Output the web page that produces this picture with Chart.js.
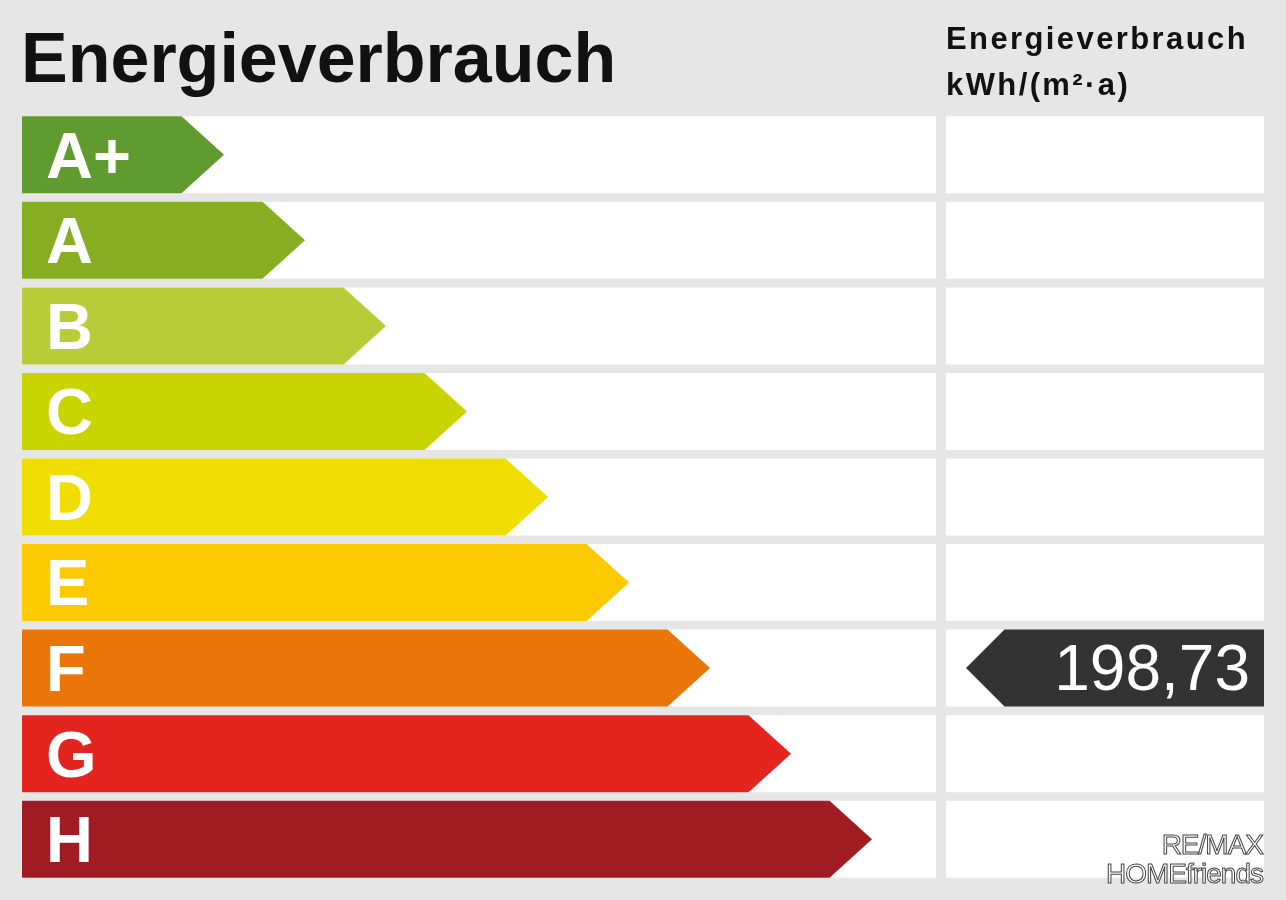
<!DOCTYPE html>
<html><head><meta charset="utf-8">
<script src="https://cdn.jsdelivr.net/npm/chart.js@4"></script>
<style>
body{margin:0;background:#e6e6e6;width:1286px;height:900px;overflow:hidden;font-family:"Liberation Sans",Arial,sans-serif}
#wrap{position:relative;width:1286px;height:900px}
.t{position:absolute;font-weight:bold;color:#111;white-space:nowrap}
</style></head><body>
<div id="wrap">
<canvas id="c" width="1286" height="900"></canvas>
<div class="t" style="left:21px;top:18px;font-size:70px">Energieverbrauch</div>
<div class="t" style="left:946px;top:16px;font-size:31px;line-height:46px;letter-spacing:2.4px">Energieverbrauch<br>kWh/(m²·a)</div>
<div style="position:absolute;right:23px;top:830px;font-size:28px;line-height:29px;text-align:right;color:#fff;-webkit-text-stroke:1px #444;letter-spacing:-1px">RE/MAX<br>HOMEfriends</div>
</div>
<script>
const categories=["A+","A","B","C","D","E","F","G","H"];
const arrowEnds=[202,283,364,445,526,607,688,769,850];
const colors=["#5f9b2f","#87ae22","#b6cd38","#cad400","#f0de00","#fdc900","#ea760a","#e3241f","#a11b22"];
const leftPanel=[0,914];
const rightPanel=[924,1242];
const valueLabel="198,73";
const valueCategory="F";
const valueStart=944;

const arrowPlugin={id:"arrows",afterDatasetsDraw(chart){
  const ctx=chart.ctx, meta=chart.getDatasetMeta(2), xs=chart.scales.x;
  meta.data.forEach((el,i)=>{
    const h=el.height, y=el.y, x0=xs.getPixelForValue(0), x1=el.x, d=h/2+4;
    ctx.fillStyle=colors[i];
    ctx.beginPath();ctx.moveTo(x0,y-h/2);ctx.lineTo(x1-d,y-h/2);ctx.lineTo(x1,y);ctx.lineTo(x1-d,y+h/2);ctx.lineTo(x0,y+h/2);ctx.closePath();ctx.fill();
    ctx.fillStyle="#fff";ctx.font="bold 65px 'Liberation Sans',Arial";ctx.textBaseline="middle";ctx.textAlign="left";
    ctx.fillText(categories[i],x0+24,y+5);
  });
  const vm=chart.getDatasetMeta(3);
  const idx=categories.indexOf(valueCategory), el=vm.data[idx];
  const h=el.height, y=el.y, xl=el.base, xr=el.x, d=h/2;
  ctx.fillStyle="#333333";
  ctx.beginPath();ctx.moveTo(xl,y);ctx.lineTo(xl+d,y-h/2);ctx.lineTo(xr,y-h/2);ctx.lineTo(xr,y+h/2);ctx.lineTo(xl+d,y+h/2);ctx.closePath();ctx.fill();
  ctx.fillStyle="#fff";ctx.font="64px 'Liberation Sans',Arial";ctx.textAlign="right";ctx.textBaseline="middle";
  ctx.fillText(valueLabel,xr-14,y+4);
}};

new Chart(document.getElementById("c"),{
  type:"bar",
  data:{labels:categories,datasets:[
    {data:categories.map(()=>leftPanel),backgroundColor:"#fff",grouped:false,barPercentage:0.9,categoryPercentage:1},
    {data:categories.map(()=>rightPanel),backgroundColor:"#fff",grouped:false,barPercentage:0.9,categoryPercentage:1},
    {data:arrowEnds,backgroundColor:"rgba(0,0,0,0)",grouped:false,barPercentage:0.9,categoryPercentage:1},
    {data:categories.map(c=>c===valueCategory?[valueStart,1242]:null),backgroundColor:"rgba(0,0,0,0)",grouped:false,barPercentage:0.9,categoryPercentage:1}
  ]},
  options:{indexAxis:"y",responsive:false,animation:false,
    layout:{padding:{left:22,right:22,top:112,bottom:18}},
    plugins:{legend:{display:false},tooltip:{enabled:false}},
    scales:{x:{display:false,min:0,max:1242},y:{display:false}}},
  plugins:[arrowPlugin]
});
</script></body></html>
